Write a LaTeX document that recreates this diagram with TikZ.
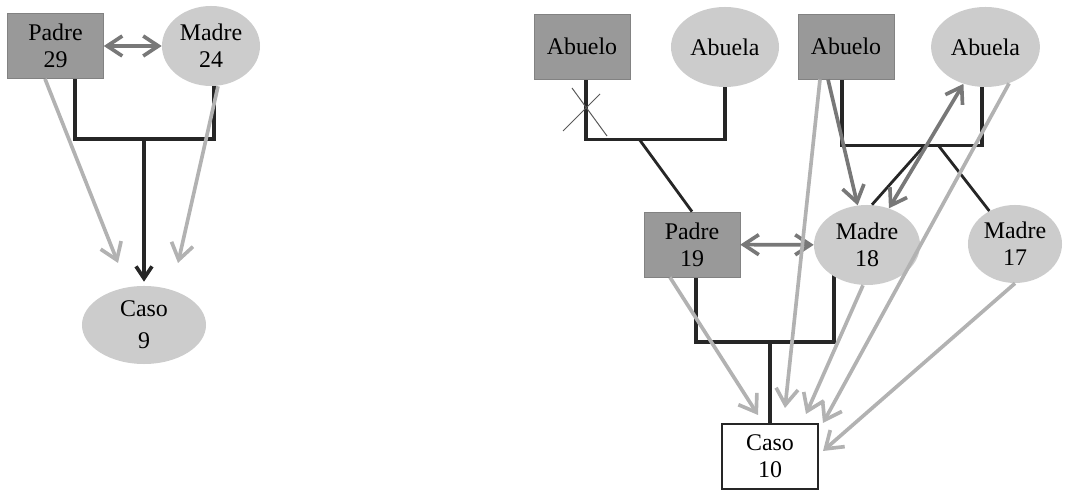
\documentclass[tikz,border=0pt]{standalone}
\usepackage{fontspec}
\setmainfont{Liberation Serif}
\usetikzlibrary{calc,arrows.meta,backgrounds,shapes.geometric}

\definecolor{cvaron}{gray}{0.6}
\definecolor{cmujer}{gray}{0.8}
\definecolor{clinea}{gray}{0.15}
\definecolor{cmedia}{gray}{0.47}
\definecolor{cclara}{gray}{0.7}

\tikzset{
  varon/.style={rectangle, fill=cvaron, draw=cvaron!85!black, minimum width=2.4cm, minimum height=1.63cm, align=center},
  mujer/.style={ellipse, fill=cmujer, inner sep=0pt, minimum width=2.65cm, minimum height=2cm, align=center},
  caso/.style={rectangle, fill=white, draw=clinea, line width=1.4pt, minimum width=2.4cm, minimum height=1.63cm, align=center},
  famline/.style={draw=clinea, line width=2.6pt},
  barb/.style={-{Straight Barb[length=4mm,width=5.5mm]}},
  clara/.style={draw=cclara, line width=2.6pt, barb},
  media/.style={draw=cmedia, line width=2.6pt, barb},
  doble/.style={draw=cmedia, line width=2.6pt, {Straight Barb[length=3.8mm,width=5mm]}-{Straight Barb[length=3.8mm,width=5mm]}},
  cruz/.style={draw=gray!70!black, line width=0.7pt}
}

\begin{document}
\begin{tikzpicture}[x=0.025cm, y=-0.025cm, font=\fontsize{17}{19}\selectfont]
  \useasboundingbox (0,0) rectangle (1068,490);

  %%%%% caso 9 %%%%%
  \node[varon] (p29) at (55.5,46) {Padre\\29};
  \node[mujer, minimum width=2.45cm] (m24) at (211,46) {Madre\\24};
  \node[mujer, minimum width=3.1cm, minimum height=1.95cm] (c9) at (144,325) {Caso\\[4pt]9};

  \coordinate (j1) at (144,139);
  \coordinate (f1) at (118,263);
  \coordinate (f2) at (178,263);

  \begin{scope}[on background layer]
    \draw[famline] ($(p29.south)+(19.5,0)$) |- (j1) -| ($(m24.south)+(3,0)$);
  \end{scope}
  \draw[famline, -{Straight Barb[length=3mm,width=4mm]}, shorten >=0.1cm] (j1) -- (c9);
  \draw[doble] (p29) -- (m24);
  \draw[clara] ($(p29.south)+(-10.5,0)$) -- (f1);
  \draw[clara] ($(m24.south)+(7,0)$) -- (f2);

  %%%%% caso 10 %%%%%
  \node[varon] (ab1) at (582,46.5) {Abuelo};
  \node[mujer, minimum width=2.7cm] (aa1) at (725,47) {Abuela};
  \node[varon] (ab2) at (846,46.5) {Abuelo};
  \node[mujer, minimum width=2.72cm] (aa2) at (985.5,47) {Abuela};
  \node[varon] (p19) at (692,244.5) {Padre\\19};
  \node[mujer] (m18) at (867,245) {Madre\\18};
  \node[mujer, minimum width=2.35cm, minimum height=1.95cm] (m17) at (1015,244) {Madre\\17};
  \node[caso] (c10) at (770,456.5) {Caso\\10};

  \coordinate (j2) at (639,139);
  \coordinate (j4) at (925,145);
  \coordinate (j5) at (938,145);
  \coordinate (j6) at (770,342);

  \begin{scope}[on background layer]
    \draw[famline] ($(ab1.south)+(4,0)$) -- ++(0,60) -| (aa1.south);
    \draw[famline] ($(ab2.south)+(-4,0)$) -- ++(0,66) -| ($(aa2.south)+(-3.5,0)$);
    \draw[famline] ($(p19.south)+(4,0)$) |- (j6) -| ($(m18.center)+(-33,0)$);
  \end{scope}
  \draw[famline, line width=2pt] (j2) -- (p19.north);
  \draw[famline, line width=2pt] (j4) -- ($(m18.north)+(5,0)$);
  \draw[famline, line width=2pt] (j5) -- (m17);
  \draw[famline] (j6) -- (c10.north);

  % fallecido
  \draw[cruz] (563,131) -- (600,94) (572,88) -- (607,136);

  \draw[doble] (p19) -- (m18);
  \draw[media] ($(ab2.south)+(-18,0)$) -- (m18);
  \draw[doble] (m18) -- (aa2);

  \coordinate (g1) at (758,415);
  \coordinate (g2) at (785,408);
  \coordinate (g3) at (806,414);
  \coordinate (g4) at (823,423);
  \coordinate (g5) at (823,451);
  \draw[clara] ($(p19.south)+(-22,0)$) -- (g1);
  \draw[clara] ($(ab2.south)+(-26,0)$) -- (g2);
  \draw[clara] ($(m18.south)+(-4,0)$) -- (g3);
  \draw[clara] (aa2.-57) -- (g4);
  \draw[clara] (m17.south) -- (g5);
\end{tikzpicture}
\end{document}
